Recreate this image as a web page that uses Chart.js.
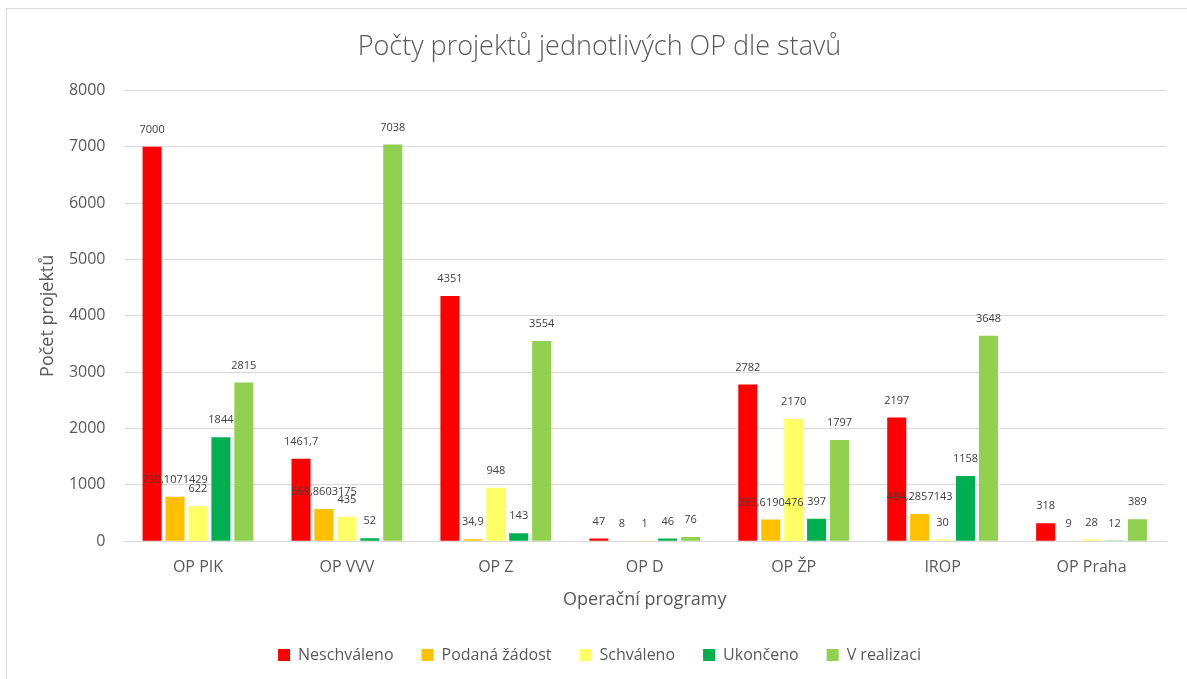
<!DOCTYPE html>
<html>
<head>
<meta charset="utf-8">
<script src="https://cdn.jsdelivr.net/npm/chart.js@4"></script>
<style>
  html, body { margin: 0; padding: 0; background: #fff; }
  #frame { position: absolute; left: 6px; top: 8px; width: 1200px; height: 700px; border: 1px solid #d9d9d9; box-sizing: border-box; }
  #wrap { position: absolute; left: 0; top: 0; width: 1187px; height: 679px; }
</style>
</head>
<body>
<div id="frame"></div>
<div id="wrap"><canvas id="chart" width="1187" height="679"></canvas></div>
<script>
// kategorie (operační programy)
const categories = ['OP PIK', 'OP VVV', 'OP Z', 'OP D', 'OP ŽP', 'IROP', 'OP Praha'];
const yTicks = [0, 1000, 2000, 3000, 4000, 5000, 6000, 7000, 8000];

// hodnoty podle stavu
const neschvaleno = [7000, 1461.7, 4351, 47, 2782, 2197, 318];
const podanaZadost = [790.1071429, 569.8603175, 34.9, 8, 383.6190476, 484.2857143, 9];
const schvaleno = [622, 435, 948, 1, 2170, 30, 28];
const ukonceno = [1844, 52, 143, 46, 397, 1158, 12];
const vRealizaci = [2815, 7038, 3554, 76, 1797, 3648, 389];

const textColor = '#595959';
const fontFamily = "'Open Sans', 'Noto Sans', sans-serif";

// popisky hodnot nad sloupci
const valueLabels = {
    id: 'valueLabels',
    afterDatasetsDraw(chart) {
        const ctx = chart.ctx;
        ctx.save();
        ctx.font = '11px ' + fontFamily;
        ctx.fillStyle = '#404040';
        ctx.textAlign = 'center';
        ctx.textBaseline = 'middle';
        chart.data.datasets.forEach((ds, i) => {
            const meta = chart.getDatasetMeta(i);
            meta.data.forEach((bar, j) => {
                const txt = String(ds.data[j]).replace('.', ',');
                ctx.fillText(txt, bar.x, bar.y - 17);
            });
        });
        ctx.restore();
    }
};

new Chart(document.getElementById('chart'), {
    type: 'bar',
    data: {
        labels: categories,
        datasets: [
            { label: 'Neschváleno', data: neschvaleno, backgroundColor: '#ff0000' },
            { label: 'Podaná žádost', data: podanaZadost, backgroundColor: '#ffc000' },
            { label: 'Schváleno', data: schvaleno, backgroundColor: '#ffff66' },
            { label: 'Ukončeno', data: ukonceno, backgroundColor: '#00b050' },
            { label: 'V realizaci', data: vRealizaci, backgroundColor: '#92d050' }
        ]
    },
    options: {
        responsive: false,
        animation: false,
        categoryPercentage: 0.77,
        barPercentage: 0.83,
        layout: { padding: { left: 33, right: 21, top: 10, bottom: 6 } },
        scales: {
            x: {
                grid: { display: false },
                border: { color: '#d9d9d9', width: 1 },
                ticks: { color: textColor, font: { size: 16, family: fontFamily }, padding: 9 },
                title: { display: true, text: 'Operační programy', color: textColor, font: { size: 18, family: fontFamily }, padding: { top: 3, bottom: 8 } }
            },
            y: {
                min: 0,
                max: 8000,
                afterBuildTicks(scale) {
                    scale.ticks = yTicks.map(v => ({ value: v }));
                },
                afterFit(scale) { scale.width = 123.5 - 33; },
                grid: { color: '#d9d9d9', drawTicks: false },
                border: { display: false },
                ticks: { color: textColor, font: { size: 16, family: fontFamily }, padding: 18, callback: v => String(v) },
                title: { display: true, text: 'Počet projektů', color: textColor, font: { size: 18, family: fontFamily } }
            }
        },
        plugins: {
            title: {
                display: true,
                text: 'Počty projektů jednotlivých OP dle stavů',
                color: textColor,
                font: { size: 27, weight: 300, family: fontFamily },
                padding: { top: 21, bottom: 27 }
            },
            legend: {
                position: 'bottom',
                labels: { color: textColor, font: { size: 16, family: fontFamily }, boxWidth: 12, boxHeight: 12, padding: 28 }
            },
            tooltip: { enabled: false }
        }
    },
    plugins: [valueLabels]
});
</script>
</body>
</html>
